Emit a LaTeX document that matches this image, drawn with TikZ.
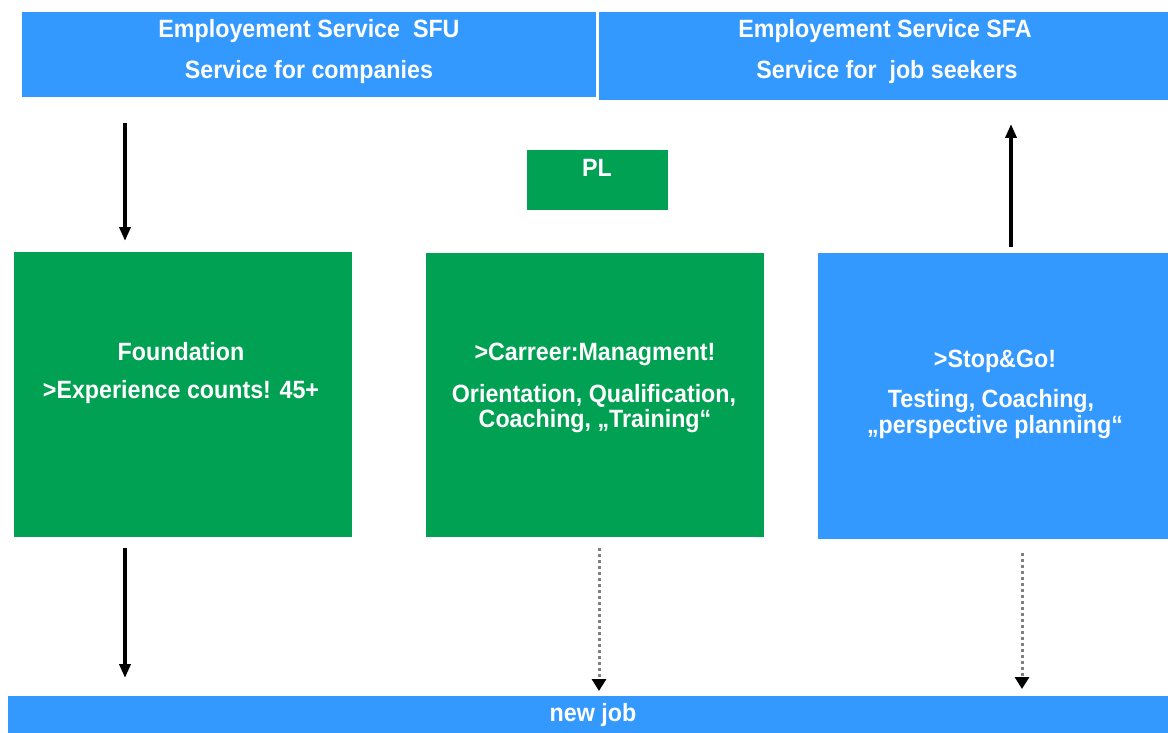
\documentclass[tikz,border=0pt]{standalone}
\usepackage{fontspec}
\setmainfont{Liberation Sans}[FakeStretch=0.93]
\usetikzlibrary{arrows.meta}
\definecolor{sblue}{HTML}{3399FF}
\definecolor{sgreen}{HTML}{00A152}
\begin{document}
\begin{tikzpicture}[x=1pt,y=-1pt,
  lbl/.style={text=white,font=\bfseries\fontsize{25}{29}\selectfont,align=center,inner sep=0pt},
  bluebox/.style={fill=sblue,draw=none},
  greenbox/.style={fill=sgreen,draw=none},
  solidarrow/.style={line width=4pt,-{Triangle[width=11pt,length=14pt]}},
  dotarrow/.style={draw=gray,line width=3pt,dash pattern=on 3pt off 3pt,-{Triangle[width=14pt,length=12pt,color=black,fill=black]}}]
\useasboundingbox (0,0) rectangle (1168,733);
% top boxes
\fill[bluebox] (22,12) rectangle (596,97);
\fill[bluebox] (599,12) rectangle (1168,100);
\node[lbl] (sfu1) at (309,31) {Employement Service\ \ SFU};
\node[lbl] (sfu2) at (309,72) {Service for companies};
\node[lbl] (sfa1) at (885,31) {Employement Service SFA};
\node[lbl] (sfa2) at (887,72) {Service for\ \ job seekers};
% PL
\fill[greenbox] (527,150) rectangle (668,210);
\node[lbl] (pl) at (597,168) {PL};
% middle boxes
\fill[greenbox] (14,252) rectangle (352,537);
\node[lbl] (f1) at (181,352) {Foundation};
\node[lbl] (f2) at (181,392) {>Experience counts! 45+};
\fill[greenbox] (426,253) rectangle (764,537);
\node[lbl] (c1) at (595,354) {>Carreer:Managment!};
\node[lbl] (c2) at (594,396) {Orientation, Qualification,};
\node[lbl] (c3) at (595,421) {Coaching, „Training“};
\fill[bluebox] (818,253) rectangle (1168,539);
\node[lbl] (s1) at (995,361) {>Stop\&Go!};
\node[lbl] (s2) at (991,401) {Testing, Coaching,};
\node[lbl] (s3) at (995,427) {„perspective planning“};
% bottom bar
\fill[bluebox] (8,696) rectangle (1168,733);
\node[lbl] (nj) at (593,715) {new job};
% arrows
\coordinate (a1s) at (125,123); \coordinate (a1e) at (125,241);
\coordinate (a2s) at (125,548); \coordinate (a2e) at (125,678);
\coordinate (a3s) at (599,548); \coordinate (a3e) at (599,691);
\coordinate (a4s) at (1022,553); \coordinate (a4e) at (1022,689);
\coordinate (a5s) at (1011,247); \coordinate (a5e) at (1011,124);
\draw[solidarrow] (a1s) -- (a1e);
\draw[solidarrow] (a2s) -- (a2e);
\draw[solidarrow] (a5s) -- (a5e);
\draw[dotarrow] (a3s) -- (a3e);
\draw[dotarrow] (a4s) -- (a4e);
\end{tikzpicture}
\end{document}
